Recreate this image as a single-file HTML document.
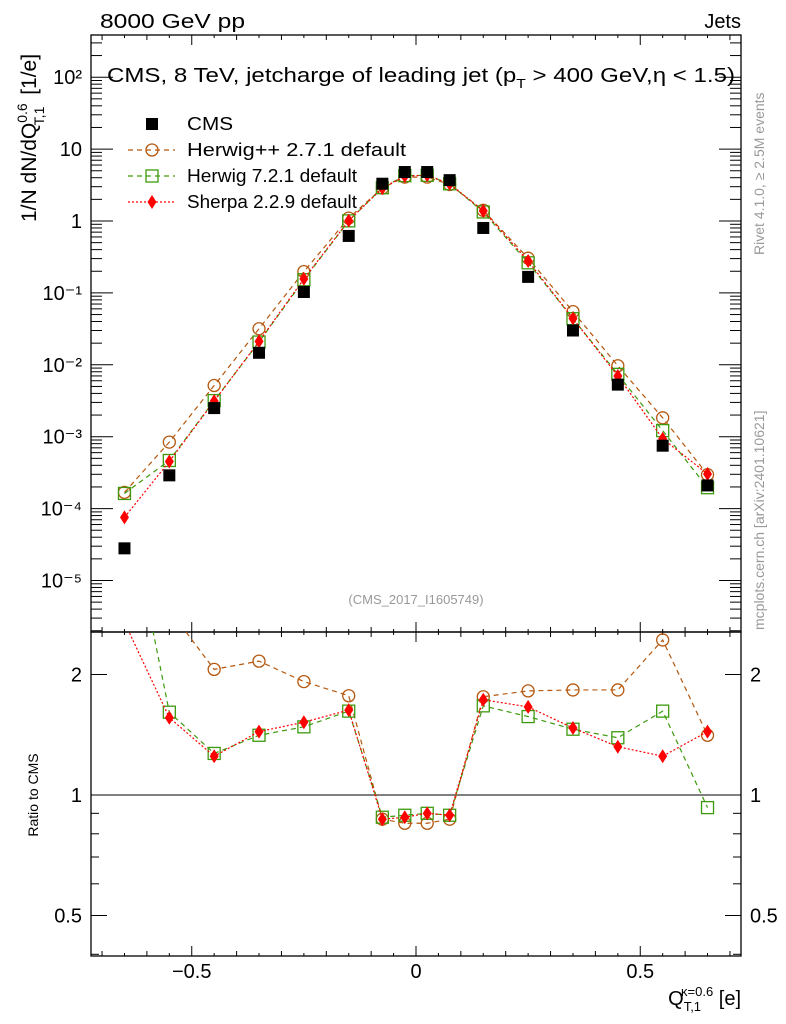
<!DOCTYPE html>
<html><head><meta charset="utf-8">
<style>
body{margin:0;background:#fff;}
svg{font-family:"Liberation Sans",sans-serif;display:block;}
</style></head>
<body>
<svg id="chart" width="786" height="1024" viewBox="0 0 786 1024" xmlns="http://www.w3.org/2000/svg">
<text x="100" y="28" font-size="20" textLength="145" lengthAdjust="spacingAndGlyphs">8000 GeV pp</text>
<text x="741" y="28" font-size="20" text-anchor="end">Jets</text>
<text x="107" y="82" font-size="20" textLength="628" lengthAdjust="spacingAndGlyphs">CMS, 8 TeV, jetcharge of leading jet (p<tspan font-size="13" dy="6">T</tspan><tspan dy="-6"> &gt; 400 GeV,η &lt; 1.5)</tspan></text>
<text x="416" y="604" font-size="13" fill="#999" text-anchor="middle">(CMS_2017_I1605749)</text>
<text transform="translate(764,255) rotate(-90)" font-size="14" fill="#999">Rivet 4.1.0, ≥ 2.5M events</text>
<text transform="translate(764,630) rotate(-90)" font-size="14" fill="#999">mcplots.cern.ch [arXiv:2401.10621]</text>
<text transform="translate(36,222) rotate(-90)" font-size="21">1/N dN/dQ<tspan font-size="14" dy="-9">0.6</tspan><tspan font-size="14" dx="-22" dy="17">T,1</tspan><tspan dy="-8" dx="6"> [1/e]</tspan></text>
<text transform="translate(38,795) rotate(-90)" font-size="14" text-anchor="middle">Ratio to CMS</text>
<text x="741" y="1005" font-size="20" text-anchor="end">Q<tspan font-size="13" dy="6">T,1</tspan><tspan font-size="13" dx="-20" dy="-15">κ=0.6</tspan><tspan dy="9"> [e]</tspan></text>
<g id="g"></g>
</svg>
<script>
const xs = [-0.65,-0.55,-0.45,-0.35,-0.25,-0.15,-0.075,-0.025,0.025,0.075,0.15,0.25,0.35,0.45,0.55,0.65];
const cms = [2.8e-5,2.9e-4,2.5e-3,0.0147,0.103,0.62,3.3,4.8,4.8,3.7,0.8,0.167,0.030,0.0053,7.5e-4,2.1e-4];
const ratioHpp = [6.0,2.9,2.06,2.16,1.92,1.77,0.87,0.85,0.85,0.87,1.76,1.82,1.83,1.83,2.44,1.41];
const ratioH7 = [5.8,1.61,1.27,1.41,1.48,1.62,0.88,0.89,0.90,0.89,1.67,1.57,1.46,1.39,1.62,0.93];
const ratioSh = [2.7,1.56,1.25,1.44,1.52,1.63,0.87,0.88,0.90,0.89,1.73,1.66,1.47,1.32,1.25,1.44];
const xTicks = [-0.5,0,0.5];
const xTickLabels = ["−0.5","0","0.5"];
const yDecades = [-5,-4,-3,-2,-1,0,1,2];
const yDecadeLabels = ["10⁻⁵","10⁻⁴","10⁻³","10⁻²","10⁻¹","1","10","10²"];
const rTicks = [0.5,1,2];
const rTickLabels = ["0.5","1","2"];

const NS="http://www.w3.org/2000/svg";
const g=document.getElementById('g');
const L=91,R=741,T=35,M=632,B=956;
const X=v=>416+v*448.5;
const Y=v=>221-Math.log10(v)*71.9;
const YR=v=>795-Math.log2(v)*120.5;
function el(t,a,p){const e=document.createElementNS(NS,t);for(const k in a)e.setAttribute(k,a[k]);(p||g).appendChild(e);return e;}

const f1=el('rect',{x:L,y:T,width:R-L,height:M-T,fill:'none',stroke:'#000','stroke-width':1.3});


const f2=el('rect',{x:L,y:M,width:R-L,height:B-M,fill:'none',stroke:'#000','stroke-width':1.3});


const one=el('line',{x1:L,x2:R,y1:YR(1),y2:YR(1),stroke:'#000','stroke-width':1});



for(let k=-14;k<=14;k++){const v=k*0.05;const x=X(v);if(x<L||x>R)continue;
 const len=(k%10==0)?10:(k%2==0?5:3);
 for(const [y0,s] of [[M,-1],[B,-1],[T,1],[M,1]])el('line',{x1:x,x2:x,y1:y0,y2:y0+s*len,stroke:'#000'});}
xTicks.forEach((v,i)=>{const x=X(v);
 const t=el('text',{x:x,y:978,'font-size':20,'text-anchor':'middle'});t.textContent=xTickLabels[i];
 
 });

for(let d=-6;d<=2;d++){for(let m=1;m<10;m++){const v=m*Math.pow(10,d);const y=Y(v);if(y<T||y>M)continue;const len=m==1?22:11;
 el('line',{x1:L,x2:L+len,y1:y,y2:y,stroke:'#000'});el('line',{x1:R,x2:R-len,y1:y,y2:y,stroke:'#000'});}}
yDecades.forEach((d,i)=>{const t=el('text',{x:82,y:Y(Math.pow(10,d))+7,'font-size':20,'text-anchor':'end'});t.textContent=yDecadeLabels[i];
 
 });
[0.4,0.5,0.6,0.7,0.8,0.9,1,2].forEach(v=>{const y=YR(v);if(y>=B-1)return;const len=(v==0.5||v==1||v==2)?16:8;
 el('line',{x1:L,x2:L+len,y1:y,y2:y,stroke:'#000'});el('line',{x1:R,x2:R-len,y1:y,y2:y,stroke:'#000'});});
rTicks.forEach((v,i)=>{for(const [x,a] of [[82,'end'],[750,'start']]){const t=el('text',{x:x,y:YR(v)+7,'font-size':20,'text-anchor':a});t.textContent=rTickLabels[i];
 
 }});

const cp1=el('clipPath',{id:'c1'});el('rect',{x:L,y:T,width:R-L,height:M-T},cp1);
const cp2=el('clipPath',{id:'c2'});el('rect',{x:L,y:M,width:R-L,height:B-M},cp2);

function marker(p,kind,col,x,y){
 if(kind=='circle')el('circle',{cx:x,cy:y,r:6,fill:'none',stroke:col,'stroke-width':1.3},p);
 else if(kind=='square')el('rect',{x:x-6,y:y-6,width:12,height:12,fill:'none',stroke:col,'stroke-width':1.3},p);
 else if(kind=='diamond')el('polygon',{points:`${x},${y-7} ${x+4.5},${y} ${x},${y+7} ${x-4.5},${y}`,fill:col},p);
 else el('rect',{x:x-6,y:y-6,width:12,height:12,fill:col},p);}

const series=[
 {name:'herwigpp',r:ratioHpp,col:'#b5570d',dash:'5,4',kind:'circle'},
 {name:'herwig7',r:ratioH7,col:'#3d9a0e',dash:'5,4',kind:'square'},
 {name:'sherpa',r:ratioSh,col:'#ff0000',dash:'2,2',kind:'diamond'}];
series.forEach(s=>{
 const gm=el('g',{'clip-path':'url(#c1)'});
 
 
 const vals=s.r.map((r,i)=>r*cms[i]);
 el('polyline',{points:xs.map((x,i)=>X(x)+','+Y(vals[i])).join(' '),fill:'none',stroke:s.col,'stroke-dasharray':s.dash,'stroke-width':1.2},gm);
 xs.forEach((x,i)=>marker(gm,s.kind,s.col,X(x),Y(vals[i])));
 const gr=el('g',{'clip-path':'url(#c2)'});
 
 
 el('polyline',{points:xs.map((x,i)=>X(x)+','+YR(s.r[i])).join(' '),fill:'none',stroke:s.col,'stroke-dasharray':s.dash,'stroke-width':1.2},gr);
 xs.forEach((x,i)=>marker(gr,s.kind,s.col,X(x),YR(s.r[i])));
});
const gc=el('g',{'clip-path':'url(#c1)'});


xs.forEach((x,i)=>marker(gc,'fill','#000',X(x),Y(cms[i])));

const leg=el('g',{});


const items=[['CMS','fill','#000',null,46],['Herwig++ 2.7.1 default','circle','#b5570d','5,4',219],['Herwig 7.2.1 default','square','#3d9a0e','5,4',170],['Sherpa 2.2.9 default','diamond','#ff0000','2,2',170]];
items.forEach((it,i)=>{const y=124+i*26;
 if(it[3])el('line',{x1:128,x2:175,y1:y,y2:y,stroke:it[2],'stroke-dasharray':it[3],'stroke-width':1.2},leg);
 marker(leg,it[1],it[2],152,y);
 const t=el('text',{x:187,y:y+6,'font-size':18,textLength:it[4],lengthAdjust:'spacingAndGlyphs'},leg);t.textContent=it[0];
 
 });
</script>
</body></html>
